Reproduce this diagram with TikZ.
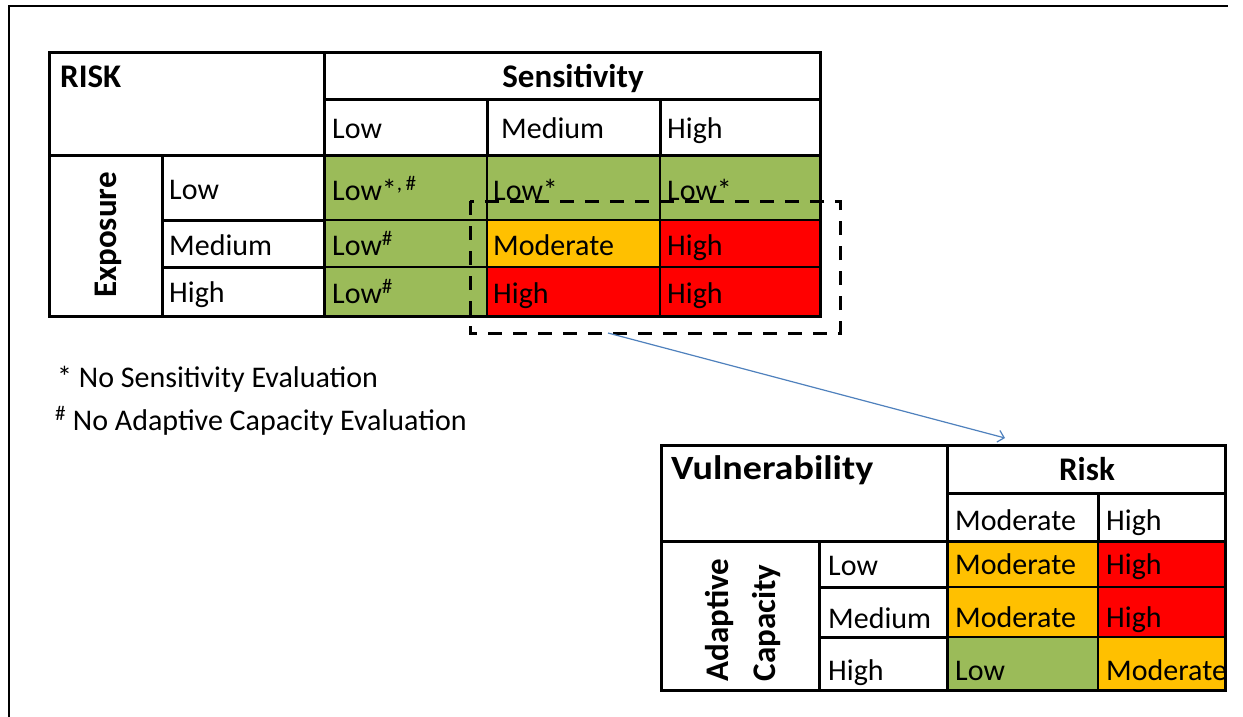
\documentclass[tikz,border=0pt]{standalone}
\usepackage{fontspec}
\setmainfont{Carlito}
\usetikzlibrary{arrows.meta}
\definecolor{cgreen}{HTML}{9BBB59}
\definecolor{corange}{HTML}{FFC000}
\definecolor{cred}{HTML}{FF0000}
\definecolor{arrowblue}{HTML}{4F81BD}
\begin{document}
\begin{tikzpicture}[x=1pt,y=-1pt,
  txt/.style={anchor=base west, inner sep=0pt, font=\fontsize{30}{36}\selectfont},
  hdr/.style={anchor=base west, inner sep=0pt, font=\fontsize{33}{40}\selectfont\bfseries},
  hdrc/.style={anchor=base, inner sep=0pt, font=\fontsize{33}{40}\selectfont\bfseries},
  rothdr/.style={rotate=90, inner sep=0pt, align=left, font=\fontsize{33}{47}\selectfont\bfseries},
  thickrule/.style={line width=3pt, line cap=rect},
  thinrule/.style={line width=1.2pt},
  dashbox/.style={line width=3pt, dash pattern=on 14pt off 11pt},
  linkarrow/.style={arrowblue, line width=1.2pt, -{Straight Barb[length=6pt,width=12pt]}}
]
\useasboundingbox (0,0) rectangle (1243,717);
\fill[white] (0,0) rectangle (1243,717);
% outer frame
\draw[line width=2pt] (9,717) -- (9,6) -- (1228,6);

% ---------- Table 1 ----------
\fill[cgreen] (324,155) rectangle (820,316);
\fill[corange] (487,220) rectangle (660,267);
\fill[cred] (660,220) rectangle (820,267);
\fill[cred] (487,267) rectangle (820,316);
\draw[thinrule] (324,220) -- (820,220) (324,267) -- (820,267)
                (487,155) -- (487,316) (660,155) -- (660,316);
\draw[thickrule] (49,53) rectangle (820,316);
\draw[thickrule] (49,155) -- (820,155) (324,100) -- (820,100)
                 (324,53) -- (324,316) (487,100) -- (487,155) (660,100) -- (660,155)
                 (162,155) -- (162,316) (162,220) -- (324,220) (162,267) -- (324,267);

\node[hdr] (risk1) at (60,88) {RISK};
\node[hdrc] (sens) at (573,88) {Sensitivity};
\node[txt] (sL) at (332,139) {Low};
\node[txt] (sM) at (501,139) {Medium};
\node[txt] (sH) at (667,139) {High};
\node[rothdr] (expo) at (108,235) {Exposure};
\node[txt] (eL) at (169,199) {Low};
\node[txt] (eM) at (169,255) {Medium};
\node[txt] (eH) at (169,302) {High};
\node[txt] (c11) at (332,200) {Low*\textsuperscript{,\,\#}};
\node[txt] (c12) at (493,200) {Low*};
\node[txt] (c13) at (667,200) {Low*};
\node[txt] (c21) at (332,255) {Low\textsuperscript{\#}};
\node[txt] (c22) at (493,255) {Moderate};
\node[txt] (c23) at (667,255) {High};
\node[txt] (c31) at (332,303) {Low\textsuperscript{\#}};
\node[txt] (c32) at (493,303) {High};
\node[txt] (c33) at (667,303) {High};

% dashed selection
\draw[dashbox] (470,201) rectangle (840,333);

% footnotes
\node[txt] (fn1) at (57,387) {* No Sensitivity Evaluation};
\node[txt] (fn2) at (55,430) {\textsuperscript{\#} No Adaptive Capacity Evaluation};

% ---------- Table 2 ----------
\fill[corange] (947,541) rectangle (1098,637);
\fill[cred] (1098,541) rectangle (1225,637);
\fill[cgreen] (947,637) rectangle (1098,690);
\fill[corange] (1098,637) rectangle (1225,690);
\draw[thinrule] (947,587) -- (1225,587) (947,637) -- (1225,637) (1098,541) -- (1098,690);
\draw[thickrule] (661,445) rectangle (1225,690);
\draw[thickrule] (661,541) -- (1225,541) (947,493) -- (1225,493)
                 (947,445) -- (947,690) (1098,493) -- (1098,541)
                 (819,541) -- (819,690) (819,587) -- (947,587) (819,637) -- (947,637);

\node[hdr, font=\fontsize{34}{40}\selectfont\bfseries] (vul) at (671,479) {\scalebox{1.12}[1]{Vulnerability}};
\node[hdrc] (risk2) at (1087,480) {Risk};
\node[txt] (rM) at (955,530) {Moderate};
\node[txt] (rH) at (1106,530) {High};
\node[rothdr] (adap) at (743,620) {Adaptive\\Capacity};
\node[txt] (aL) at (828,575) {Low};
\node[txt] (aM) at (828,628) {Medium};
\node[txt] (aH) at (828,680) {High};
\node[txt] (d11) at (955,574) {Moderate};
\node[txt] (d12) at (1106,574) {High};
\node[txt] (d21) at (955,627) {Moderate};
\node[txt] (d22) at (1106,627) {High};
\node[txt] (d31) at (955,680) {Low};
\node[txt] (d32) at (1106,680) {Moderate};

% link arrow
\coordinate (linkfrom) at (608,333);
\coordinate (linkto) at (1005,438);
\draw[linkarrow] (linkfrom) -- (linkto);
\end{tikzpicture}
\end{document}
